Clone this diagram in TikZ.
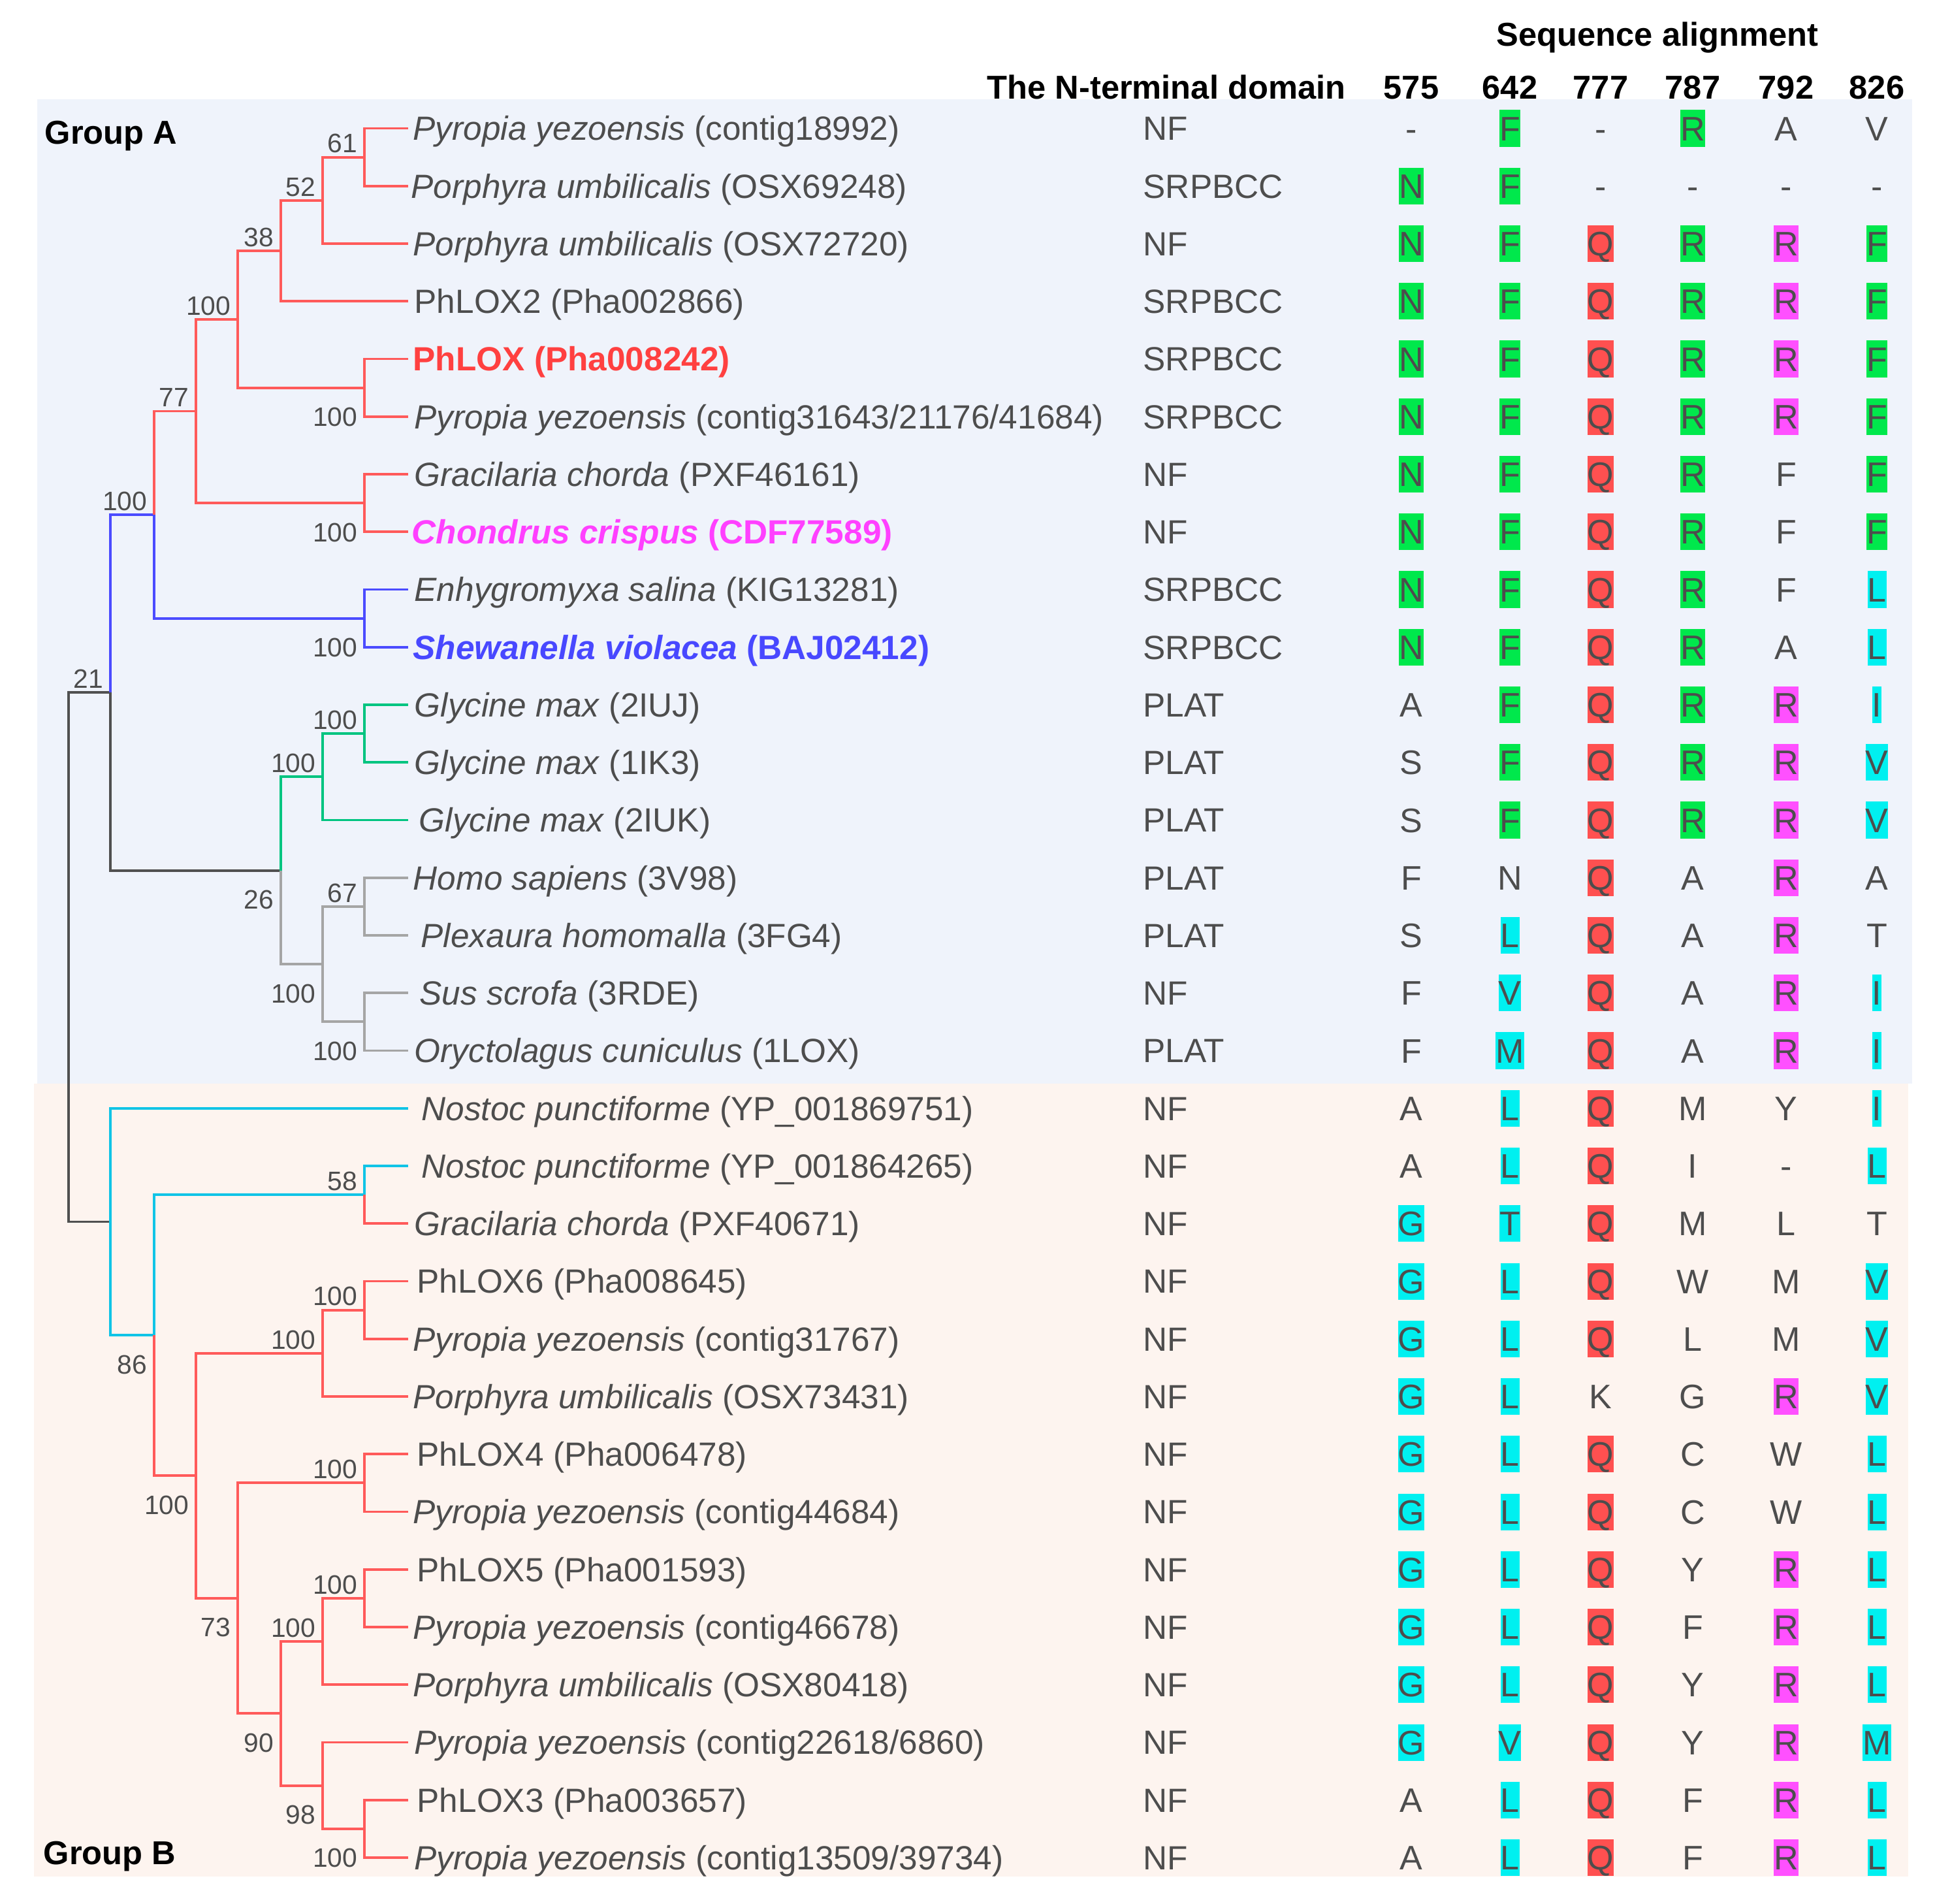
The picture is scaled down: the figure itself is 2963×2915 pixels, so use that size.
\documentclass[tikz,border=0pt]{standalone}
\usepackage{fontspec}
\setmainfont{Liberation Sans}
\usetikzlibrary{calc}

\definecolor{bgA}{RGB}{239,243,251}
\definecolor{bgB}{RGB}{253,244,239}
\definecolor{txt}{RGB}{77,77,77}
\definecolor{brred}{RGB}{255,90,90}
\definecolor{brblue}{RGB}{75,75,255}
\definecolor{brgreen}{RGB}{0,196,128}
\definecolor{brgray}{RGB}{165,165,165}
\definecolor{brdark}{RGB}{80,80,80}
\definecolor{brcyan}{RGB}{16,196,230}
\definecolor{resg}{RGB}{0,232,76}
\definecolor{resr}{RGB}{255,80,80}
\definecolor{resm}{RGB}{255,80,255}
\definecolor{resc}{RGB}{0,240,240}
\definecolor{hlred}{RGB}{255,64,64}
\definecolor{hlmag}{RGB}{255,64,255}
\definecolor{hlblue}{RGB}{72,72,255}

% one residue: letter, optional colour code, then name, x, y
\def\resparse#1#2\relax#3#4#5{%
  \if\relax\detokenize{#2}\relax
    \node[res] (#3) at (#4,#5) {#1};
  \else
    \node[res,fill=res#2] (#3) at (#4,#5) {#1};
  \fi}

\begin{document}
\begin{tikzpicture}[x=0.01cm,y=-0.01cm,
  br/.style={line width=1.1pt},
  leaf/.style={anchor=west,inner sep=0pt,text=txt,font=\fontsize{14.6}{17}\selectfont,text height=10.4pt,text depth=0pt},
  boot/.style={inner sep=0pt,text=txt,font=\fontsize{11.6}{14}\selectfont,text height=8.3pt,text depth=0pt},
  bootup/.style={boot,anchor=south east,xshift=-0.1cm,yshift=0.06cm},
  bootdn/.style={boot,anchor=north east,xshift=-0.1cm,yshift=-0.29cm},
  res/.style={inner xsep=0pt,inner ysep=0pt,minimum height=0.56cm,text=txt,font=\fontsize{14.8}{17}\selectfont,text height=10.6pt,text depth=0pt},
  dom/.style={leaf},
  colhead/.style={inner sep=0pt,font=\bfseries\fontsize{14.4}{17}\selectfont,text height=10.3pt,text depth=0pt},
  grp/.style={colhead,anchor=west}]

\useasboundingbox (0,0) rectangle (2963,2915);

% group shading
\fill[bgA] (57,152) rectangle (2928,1659);
\fill[bgB] (52,1659) rectangle (2922,2873);

% headings
\node[colhead] (seqal) at (2538,52) {Sequence alignment};
\node[colhead] (nterm) at (1786,133) {The N-terminal domain};
\foreach \x/\n in {2161/575,2312/642,2451/777,2592/787,2735/792,2874/826}
  \node[colhead] (pos\n) at (\x,133) {\n};

\node[grp] (grpA) at (68,202) {Group A};
\node[grp] (grpB) at (66,2836) {Group B};

% leaves
\foreach \i in {1,...,31}
  \coordinate (L\i) at (625,{196.5+(\i-1)*88.25});

% inner nodes
\coordinate (a61) at (558,240.6);
\coordinate (a52) at (494,306.8);
\coordinate (a38) at (430,384.0);
\coordinate (b100) at (558,593.6);
\coordinate (a100a) at (364,488.8);
\coordinate (c100) at (558,770.1);
\coordinate (a77) at (300,629.5);
\coordinate (d100) at (558,946.6);
\coordinate (a100b) at (236,788.1);
\coordinate (h100) at (558,1123.1);
\coordinate (f100) at (494,1189.3);
\coordinate (i67) at (558,1387.9);
\coordinate (j100) at (558,1564.4);
\coordinate (g100) at (494,1476.1);
\coordinate (e26) at (430,1332.7);
\coordinate (n21) at (169,1060.4);
\coordinate (q58) at (558,1829.1);
\coordinate (t100) at (558,2005.6);
\coordinate (r100) at (494,2071.8);
\coordinate (u100) at (558,2270.4);
\coordinate (y100) at (558,2446.9);
\coordinate (w100) at (494,2513.1);
\coordinate (z100) at (558,2799.9);
\coordinate (x98) at (494,2733.7);
\coordinate (v90) at (430,2623.4);
\coordinate (s73) at (364,2446.9);
\coordinate (p100) at (300,2259.3);
\coordinate (m86) at (236,2044.2);
\coordinate (nB) at (169,1870.5);
\coordinate (root) at (105,1465.4);

% branches
\foreach \p/\q in {root/n21,root/nB,n21/e26}
  \draw[br,brdark] (\p) |- (\q);
\foreach \p/\q in {n21/a100b,a100b/d100,d100/L9,d100/L10}
  \draw[br,brblue] (\p) |- (\q);
\foreach \p/\q in {e26/f100,f100/h100,f100/L13,h100/L11,h100/L12}
  \draw[br,brgreen] (\p) |- (\q);
\foreach \p/\q in {e26/g100,g100/i67,g100/j100,i67/L14,i67/L15,j100/L16,j100/L17}
  \draw[br,brgray] (\p) |- (\q);
\foreach \p/\q in {nB/L18,nB/m86,m86/q58,q58/L19}
  \draw[br,brcyan] (\p) |- (\q);
\foreach \p/\q in {a61/L1,a61/L2,a52/a61,a52/L3,a38/a52,a38/L4,a100a/a38,a100a/b100,
    b100/L5,b100/L6,a77/a100a,a77/c100,c100/L7,c100/L8,a100b/a77,
    q58/L20,m86/p100,p100/r100,p100/s73,r100/t100,r100/L23,t100/L21,t100/L22,
    s73/u100,s73/v90,u100/L24,u100/L25,v90/w100,v90/x98,w100/y100,w100/L28,
    y100/L26,y100/L27,x98/L29,x98/z100,z100/L30,z100/L31}
  \draw[br,brred] (\p) |- (\q);

% bootstrap values
\foreach \n/\v in {a61/61,a52/52,a38/38,a100a/100,a77/77,a100b/100,n21/21,f100/100,
    h100/100,i67/67,q58/58,t100/100,r100/100,u100/100,y100/100,w100/100}
  \node[bootup] (bs\n) at (\n) {\v};
\foreach \n/\v in {b100/100,c100/100,d100/100,e26/26,g100/100,j100/100,m86/86,
    p100/100,s73/73,v90/90,x98/98,z100/100}
  \node[bootdn] (bs\n) at (\n) {\v};

% taxa
\node[leaf] (t1) at (632,196.5) {\textit{Pyropia yezoensis} (contig18992)};
\node[leaf] (t2) at (629,284.75) {\textit{Porphyra umbilicalis} (OSX69248)};
\node[leaf] (t3) at (632,373) {\textit{Porphyra umbilicalis} (OSX72720)};
\node[leaf] (t4) at (634,461.25) {PhLOX2 (Pha002866)};
\node[leaf,text=hlred,font=\bfseries\fontsize{14.6}{17}\selectfont] (t5) at (632,549.5) {PhLOX (Pha008242)};
\node[leaf] (t6) at (634,637.75) {\textit{Pyropia yezoensis} (contig31643/21176/41684)};
\node[leaf] (t7) at (634,726) {\textit{Gracilaria chorda} (PXF46161)};
\node[leaf,text=hlmag,font=\bfseries\fontsize{14.6}{17}\selectfont] (t8) at (630,814.25) {\textit{Chondrus crispus} (CDF77589)};
\node[leaf] (t9) at (634,902.5) {\textit{Enhygromyxa salina} (KIG13281)};
\node[leaf,text=hlblue,font=\bfseries\fontsize{14.6}{17}\selectfont] (t10) at (632,990.75) {\textit{Shewanella violacea} (BAJ02412)};
\node[leaf] (t11) at (634,1079) {\textit{Glycine max} (2IUJ)};
\node[leaf] (t12) at (634,1167.25) {\textit{Glycine max} (1IK3)};
\node[leaf] (t13) at (641,1255.5) {\textit{Glycine max} (2IUK)};
\node[leaf] (t14) at (632,1343.75) {\textit{Homo sapiens} (3V98)};
\node[leaf] (t15) at (644,1432) {\textit{Plexaura homomalla} (3FG4)};
\node[leaf] (t16) at (642,1520.25) {\textit{Sus scrofa} (3RDE)};
\node[leaf] (t17) at (634,1608.5) {\textit{Oryctolagus cuniculus} (1LOX)};
\node[leaf] (t18) at (645,1696.75) {\textit{Nostoc punctiforme} (YP\_001869751)};
\node[leaf] (t19) at (645,1785) {\textit{Nostoc punctiforme} (YP\_001864265)};
\node[leaf] (t20) at (634,1873.25) {\textit{Gracilaria chorda} (PXF40671)};
\node[leaf] (t21) at (638,1961.5) {PhLOX6 (Pha008645)};
\node[leaf] (t22) at (632,2049.75) {\textit{Pyropia yezoensis} (contig31767)};
\node[leaf] (t23) at (632,2138) {\textit{Porphyra umbilicalis} (OSX73431)};
\node[leaf] (t24) at (638,2226.25) {PhLOX4 (Pha006478)};
\node[leaf] (t25) at (632,2314.5) {\textit{Pyropia yezoensis} (contig44684)};
\node[leaf] (t26) at (638,2402.75) {PhLOX5 (Pha001593)};
\node[leaf] (t27) at (632,2491) {\textit{Pyropia yezoensis} (contig46678)};
\node[leaf] (t28) at (632,2579.25) {\textit{Porphyra umbilicalis} (OSX80418)};
\node[leaf] (t29) at (634,2667.5) {\textit{Pyropia yezoensis} (contig22618/6860)};
\node[leaf] (t30) at (638,2755.75) {PhLOX3 (Pha003657)};
\node[leaf] (t31) at (634,2844) {\textit{Pyropia yezoensis} (contig13509/39734)};

% domain and residues
\foreach \r/\dm/\ra/\rb/\rc/\rd/\re/\rf in {
    1/NF/-/Fg/-/Rg/A/V,
    2/SRPBCC/Ng/Fg/-/-/-/-,
    3/NF/Ng/Fg/Qr/Rg/Rm/Fg,
    4/SRPBCC/Ng/Fg/Qr/Rg/Rm/Fg,
    5/SRPBCC/Ng/Fg/Qr/Rg/Rm/Fg,
    6/SRPBCC/Ng/Fg/Qr/Rg/Rm/Fg,
    7/NF/Ng/Fg/Qr/Rg/F/Fg,
    8/NF/Ng/Fg/Qr/Rg/F/Fg,
    9/SRPBCC/Ng/Fg/Qr/Rg/F/Lc,
    10/SRPBCC/Ng/Fg/Qr/Rg/A/Lc,
    11/PLAT/A/Fg/Qr/Rg/Rm/Ic,
    12/PLAT/S/Fg/Qr/Rg/Rm/Vc,
    13/PLAT/S/Fg/Qr/Rg/Rm/Vc,
    14/PLAT/F/N/Qr/A/Rm/A,
    15/PLAT/S/Lc/Qr/A/Rm/T,
    16/NF/F/Vc/Qr/A/Rm/Ic,
    17/PLAT/F/Mc/Qr/A/Rm/Ic,
    18/NF/A/Lc/Qr/M/Y/Ic,
    19/NF/A/Lc/Qr/I/-/Lc,
    20/NF/Gc/Tc/Qr/M/L/T,
    21/NF/Gc/Lc/Qr/W/M/Vc,
    22/NF/Gc/Lc/Qr/L/M/Vc,
    23/NF/Gc/Lc/K/G/Rm/Vc,
    24/NF/Gc/Lc/Qr/C/W/Lc,
    25/NF/Gc/Lc/Qr/C/W/Lc,
    26/NF/Gc/Lc/Qr/Y/Rm/Lc,
    27/NF/Gc/Lc/Qr/F/Rm/Lc,
    28/NF/Gc/Lc/Qr/Y/Rm/Lc,
    29/NF/Gc/Vc/Qr/Y/Rm/Mc,
    30/NF/A/Lc/Qr/F/Rm/Lc,
    31/NF/A/Lc/Qr/F/Rm/Lc}{
  \pgfmathsetmacro\yy{196.5+(\r-1)*88.25}
  \node[dom] (dm\r) at (1750,\yy) {\dm};
  \expandafter\resparse\ra\relax{s\r a}{2161}{\yy}
  \expandafter\resparse\rb\relax{s\r b}{2312}{\yy}
  \expandafter\resparse\rc\relax{s\r c}{2451}{\yy}
  \expandafter\resparse\rd\relax{s\r d}{2592}{\yy}
  \expandafter\resparse\re\relax{s\r e}{2735}{\yy}
  \expandafter\resparse\rf\relax{s\r f}{2874}{\yy}
}
\end{tikzpicture}
\end{document}
